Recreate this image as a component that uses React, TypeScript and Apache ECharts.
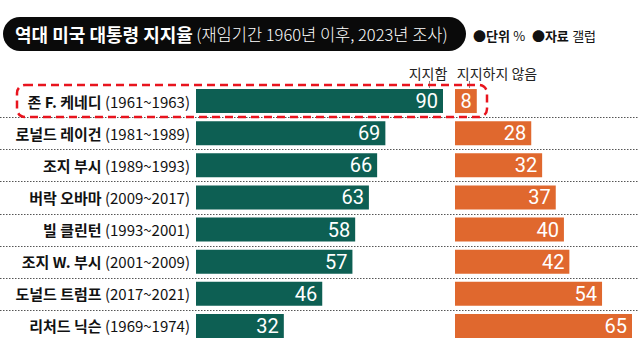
import React, { useEffect, useRef } from "react";
import * as echarts from "echarts";

const names = ["존 F. 케네디", "로널드 레이건", "조지 부시", "버락 오바마", "빌 클린턴", "조지 W. 부시", "도널드 트럼프", "리처드 닉슨"];
const terms = ["(1961~1963)", "(1981~1989)", "(1989~1993)", "(2009~2017)", "(1993~2001)", "(2001~2009)", "(2017~2021)", "(1969~1974)"];
const approve = [90, 69, 66, 63, 58, 57, 46, 32];
const disapprove = [8, 28, 32, 37, 40, 42, 54, 65];
const seriesNames = ["지지함", "지지하지 않음"];

const GREEN = "#0d5f53";
const ORANGE = "#e0682e";
const FONT = "'Noto Sans CJK KR', 'Noto Sans', sans-serif";
const NUMFONT = "'Liberation Sans Narrow', 'Roboto', sans-serif";

export default function App() {
  const ref = useRef<HTMLDivElement>(null);
  useEffect(() => {
    if (!ref.current) return;
    const chart = echarts.init(ref.current, undefined, { renderer: "svg" });
    const top = 85;
    const bottom = 15;
    const rowH = (357 - top - bottom) / names.length;
    const seps: any[] = [];
    for (let i = 1; i < names.length; i++) {
      const y = Math.round(top + rowH * i) + 0.5;
      seps.push({
        type: "line",
        shape: { x1: 0, y1: y, x2: 638, y2: y },
        style: { stroke: "#555", lineWidth: 1.2, lineDash: [1.5, 1.5] },
        z: 0,
      });
    }
    const cats = names.map((n, i) => n + "|" + terms[i]);
    const valLabel = {
      show: true,
      position: "insideRight",
      distance: 5,
      color: "#fff",
      fontFamily: NUMFONT,
      fontSize: 20,
    };
    chart.setOption({
      animation: false,
      grid: [
        { left: 196, top, width: 247, bottom },
        { left: 455, top, width: 177, bottom },
      ],
      xAxis: [
        { type: "value", gridIndex: 0, min: 0, max: 90, show: false },
        { type: "value", gridIndex: 1, min: 0, max: 65, show: false },
      ],
      yAxis: [
        {
          type: "category",
          gridIndex: 0,
          inverse: true,
          data: cats,
          axisLine: { show: false },
          axisTick: { show: false },
          axisLabel: {
            margin: 6,
            formatter: (v: string) => {
              const [n, t] = v.split("|");
              return "{b|" + n + "} {t|" + t + "}";
            },
            rich: {
              b: { fontFamily: FONT, fontWeight: "bold", fontSize: 15, color: "#111" },
              t: { fontFamily: FONT, fontSize: 15, color: "#111" },
            },
          },
        },
        {
          type: "category",
          gridIndex: 1,
          inverse: true,
          data: cats,
          show: false,
        },
      ],
      series: [
        {
          name: seriesNames[0],
          type: "bar",
          xAxisIndex: 0,
          yAxisIndex: 0,
          data: approve,
          barWidth: 24,
          itemStyle: { color: GREEN },
          label: valLabel,
        },
        {
          name: seriesNames[1],
          type: "bar",
          xAxisIndex: 1,
          yAxisIndex: 1,
          data: disapprove,
          barWidth: 24,
          itemStyle: { color: ORANGE },
          label: valLabel,
        },
      ],
      graphic: [
        ...seps,
        {
          type: "rect",
          shape: { x: 3, y: 17, width: 463, height: 34, r: 17 },
          style: { fill: "#0a0a0a" },
        },
        {
          type: "text",
          x: 15,
          y: 34,
          style: {
            text: "{b|역대 미국 대통령 지지율} {n|(재임기간 1960년 이후, 2023년 조사)}",
            verticalAlign: "middle",
            rich: {
              b: { fontFamily: FONT, fontWeight: "bold", fontSize: 18, fill: "#fff" },
              n: { fontFamily: FONT, fontWeight: 300, fontSize: 16.5, fill: "#fff" },
            },
          },
        },
        {
          type: "text",
          x: 473,
          y: 35,
          style: {
            text: "{d|●}{b|단위} {n|%}  {d|●}{b|자료} {n|갤럽}",
            verticalAlign: "middle",
            rich: {
              d: { fontFamily: FONT, fontSize: 13, fill: "#111" },
              b: { fontFamily: FONT, fontWeight: "bold", fontSize: 13, fill: "#111" },
              n: { fontFamily: FONT, fontSize: 13, fill: "#111" },
            },
          },
        },
        {
          type: "text",
          x: 428,
          y: 73,
          style: { text: seriesNames[0], align: "center", verticalAlign: "middle", fontFamily: FONT, fontSize: 14, fill: "#222" },
        },
        {
          type: "text",
          x: 497,
          y: 73,
          style: { text: seriesNames[1], align: "center", verticalAlign: "middle", fontFamily: FONT, fontSize: 14, fill: "#222" },
        },
        {
          type: "line",
          shape: { x1: 429.5, y1: 81, x2: 429.5, y2: 88 },
          style: { stroke: "#888", lineWidth: 1 },
        },
        {
          type: "line",
          shape: { x1: 469.5, y1: 81, x2: 469.5, y2: 88 },
          style: { stroke: "#888", lineWidth: 1 },
        },
        {
          type: "rect",
          shape: { x: 17, y: 85, width: 470, height: 32, r: 8 },
          style: { fill: "none", stroke: "#e8141e", lineWidth: 2.5, lineDash: [8, 5] },
          z: 100,
        },
      ],
    });
    return () => chart.dispose();
  }, []);
  return <div ref={ref} style={{ width: 638, height: 357, position: "fixed", left: 0, top: 0, background: "#fff" }} />;
}
